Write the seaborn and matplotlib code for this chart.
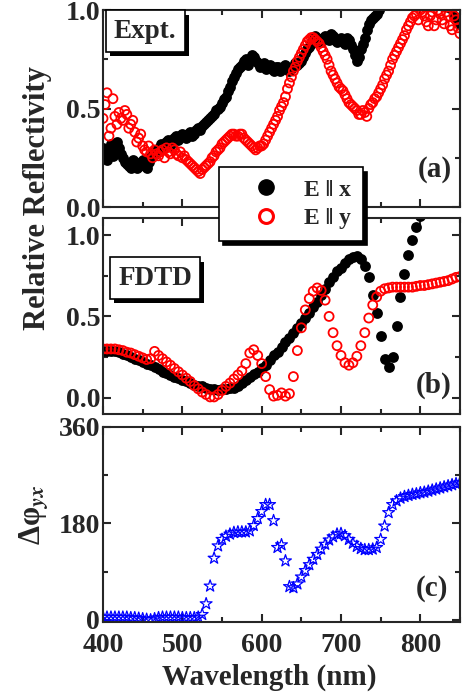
import numpy as np
import pandas as pd
import matplotlib
matplotlib.use('Agg')
import matplotlib.pyplot as plt
import matplotlib.patheffects as pe
from matplotlib.lines import Line2D
from matplotlib.ticker import MultipleLocator
import seaborn as sns

# wavelength grid (nm), plus the in-between points of the measured data
wl = np.arange(400, 855, 5)
wl_mid = np.arange(402.5, 850, 5)

# (a) measured reflectivity
expt_x = [0.30, 0.24, 0.32, 0.28, 0.30, 0.25, 0.22, 0.20, 0.23, 0.21,
          0.24, 0.20, 0.26, 0.27, 0.30, 0.31, 0.33, 0.31, 0.35, 0.34,
          0.37, 0.35, 0.38, 0.37, 0.40, 0.41, 0.43, 0.45, 0.47, 0.50,
          0.53, 0.56, 0.61, 0.66, 0.70, 0.72, 0.75, 0.74, 0.76, 0.73,
          0.72, 0.70, 0.72, 0.69, 0.71, 0.70, 0.72, 0.69, 0.71, 0.72,
          0.74, 0.78, 0.81, 0.85, 0.86, 0.84, 0.87, 0.85, 0.87, 0.84,
          0.86, 0.83, 0.85, 0.80, 0.74, 0.80, 0.86, 0.93, 0.96, 0.98,
          1.02, 1.05, 1.08, 1.10, 1.12, 1.12, 1.10, 1.12, 1.10, 1.08,
          1.08, 1.06, 1.05, 1.05, 1.04, 1.03, 1.02, 1.02, 1.01, 0.95,
          0.93]
expt_x_mid = [0.27, 0.29, 0.26, 0.33, 0.27, 0.23, 0.21, 0.24, 0.20, 0.22,
              0.21, 0.23, 0.28, 0.29, 0.32, 0.30, 0.34, 0.33, 0.36, 0.36,
              0.36, 0.37, 0.36, 0.39, 0.39, 0.42, 0.44, 0.46, 0.49, 0.51,
              0.55, 0.59, 0.64, 0.68, 0.71, 0.74, 0.72, 0.77, 0.74, 0.71,
              0.73, 0.71, 0.70, 0.71, 0.69, 0.71, 0.70, 0.70, 0.73, 0.73,
              0.76, 0.80, 0.83, 0.87, 0.85, 0.86, 0.86, 0.88, 0.85, 0.85,
              0.84, 0.86, 0.82, 0.77, 0.76, 0.83, 0.90, 0.95, 0.97, 1.00,
              1.04, 1.06, 1.09, 1.11, 1.12, 1.11, 1.11, 1.11, 1.09, 1.08,
              1.07, 1.05, 1.05, 1.04, 1.04, 1.03, 1.02, 1.01, 0.97, 0.95]
expt_y = [0.45, 0.58, 0.40, 0.46, 0.48, 0.44, 0.47, 0.42, 0.38, 0.35,
          0.31, 0.28, 0.27, 0.29, 0.26, 0.29, 0.30, 0.27, 0.29, 0.26,
          0.25, 0.24, 0.22, 0.20, 0.18, 0.19, 0.21, 0.23, 0.26, 0.29,
          0.32, 0.34, 0.36, 0.37, 0.36, 0.37, 0.34, 0.32, 0.30, 0.30,
          0.31, 0.34, 0.38, 0.42, 0.46, 0.51, 0.56, 0.63, 0.69, 0.74,
          0.78, 0.82, 0.85, 0.86, 0.84, 0.81, 0.77, 0.72, 0.67, 0.63,
          0.60, 0.57, 0.53, 0.51, 0.49, 0.47, 0.48, 0.50, 0.53, 0.56,
          0.60, 0.65, 0.69, 0.75, 0.79, 0.83, 0.87, 0.92, 0.96, 0.98,
          1.00, 0.97, 0.92, 0.99, 0.95, 0.98, 0.93, 0.97, 0.90, 0.95,
          0.88]
expt_y_mid = [0.52, 0.36, 0.55, 0.42, 0.45, 0.49, 0.40, 0.44, 0.33, 0.37,
              0.29, 0.31, 0.25, 0.27, 0.28, 0.25, 0.28, 0.30, 0.27, 0.28,
              0.26, 0.23, 0.21, 0.19, 0.17, 0.20, 0.22, 0.25, 0.28, 0.30,
              0.33, 0.35, 0.37, 0.36, 0.37, 0.35, 0.33, 0.31, 0.29, 0.31,
              0.32, 0.36, 0.40, 0.44, 0.49, 0.53, 0.60, 0.66, 0.71, 0.76,
              0.80, 0.84, 0.86, 0.85, 0.83, 0.79, 0.75, 0.69, 0.65, 0.61,
              0.59, 0.55, 0.52, 0.50, 0.47, 0.49, 0.46, 0.52, 0.55, 0.58,
              0.62, 0.67, 0.72, 0.77, 0.81, 0.85, 0.90, 0.94, 0.97, 0.95,
              0.99, 0.94, 0.97, 0.92, 1.00, 0.95, 0.99, 0.92, 0.97, 0.91]

# (b) FDTD reflectivity
fdtd_x = [0.29, 0.29, 0.29, 0.285, 0.28, 0.27, 0.26, 0.25, 0.24, 0.23,
          0.22, 0.21, 0.20, 0.19, 0.175, 0.16, 0.15, 0.14, 0.13, 0.12,
          0.11, 0.10, 0.09, 0.08, 0.075, 0.07, 0.06, 0.055, 0.055, 0.05,
          0.055, 0.055, 0.06, 0.06, 0.075, 0.09, 0.11, 0.125, 0.145, 0.16,
          0.18, 0.20, 0.23, 0.26, 0.28, 0.31, 0.34, 0.37, 0.40, 0.43,
          0.46, 0.49, 0.52, 0.56, 0.59, 0.63, 0.67, 0.71, 0.745, 0.78,
          0.80, 0.83, 0.85, 0.865, 0.87, 0.85, 0.81, 0.74, 0.63, 0.52,
          0.38, 0.24, 0.19, 0.25, 0.44, 0.62, 0.76, 0.88, 0.97, 1.05,
          1.12, 1.19, 1.25, 1.30, 1.35, 1.40, 1.44, 1.48, 1.52, 1.55,
          1.58]
fdtd_y = [0.30, 0.30, 0.30, 0.30, 0.295, 0.29, 0.28, 0.275, 0.265, 0.255,
          0.245, 0.235, 0.24, 0.285, 0.26, 0.24, 0.22, 0.20, 0.18, 0.16,
          0.14, 0.12, 0.10, 0.075, 0.055, 0.035, 0.02, 0.005, 0.005, 0.02,
          0.045, 0.07, 0.09, 0.115, 0.14, 0.165, 0.21, 0.275, 0.295, 0.26,
          0.21, 0.13, 0.05, 0.01, 0.015, 0.03, 0.01, 0.025, 0.13, 0.29,
          0.43, 0.54, 0.61, 0.655, 0.675, 0.66, 0.60, 0.50, 0.40, 0.32,
          0.26, 0.215, 0.20, 0.215, 0.255, 0.32, 0.40, 0.49, 0.57, 0.62,
          0.655, 0.67, 0.675, 0.68, 0.68, 0.68, 0.68, 0.68, 0.68, 0.685,
          0.69, 0.69, 0.695, 0.70, 0.705, 0.71, 0.715, 0.72, 0.73, 0.74,
          0.745]

# (c) phase difference (deg)
phase = [5, 5, 5, 5, 5, 5, 5, 4, 4, 3,
         2, 1, 0, 2, 4, 5, 5, 5, 5, 5,
         4, 4, 4, 4, 5, 10, 30, 63, 115, 138,
         150, 156, 160, 163, 164, 164, 164, 166, 176, 189,
         202, 215, 215, 185, 135, 140, 110, 62, 60, 67,
         80, 92, 103, 113, 122, 132, 141, 149, 155, 160,
         161, 157, 150, 143, 137, 133, 131, 131, 132, 135,
         150, 175, 200, 215, 222, 227, 230, 232, 234, 235,
         237, 238, 240, 242, 244, 246, 248, 250, 252, 254,
         256]

df = pd.DataFrame({'wl': wl, 'expt_x': expt_x, 'expt_y': expt_y,
                   'fdtd_x': fdtd_x, 'fdtd_y': fdtd_y, 'phase': phase})
df_mid = pd.DataFrame({'wl': wl_mid, 'expt_x': expt_x_mid, 'expt_y': expt_y_mid})
df_expt = pd.concat([df[['wl', 'expt_x', 'expt_y']], df_mid]).sort_values('wl')

sns.set_style('ticks')
plt.rcParams['font.family'] = ['Liberation Serif', 'DejaVu Serif']
plt.rcParams['font.weight'] = 'bold'
plt.rcParams['mathtext.fontset'] = 'stix'
plt.rcParams['axes.linewidth'] = 1.5

fig = plt.figure(figsize=(4.63, 6.97), dpi=100)
ax_a = fig.add_axes([0.2225, 0.703, 0.771, 0.2826])
ax_b = fig.add_axes([0.2225, 0.406, 0.771, 0.281])
ax_c = fig.add_axes([0.2225, 0.1076, 0.771, 0.280])

circ = dict(s=42, linewidth=1.3)
sns.scatterplot(data=df_expt, x='wl', y='expt_x', ax=ax_a, marker='o',
                facecolor='black', edgecolor='black', **circ)
sns.scatterplot(data=df_expt, x='wl', y='expt_y', ax=ax_a, marker='o',
                facecolor='none', edgecolor='red', **circ)
sns.scatterplot(data=df, x='wl', y='fdtd_x', ax=ax_b, marker='o',
                facecolor='black', edgecolor='black', **circ)
sns.scatterplot(data=df, x='wl', y='fdtd_y', ax=ax_b, marker='o',
                facecolor='none', edgecolor='red', **circ)
sns.scatterplot(data=df, x='wl', y='phase', ax=ax_c, marker='*',
                facecolor='none', edgecolor='blue', s=80, linewidth=0.9)

ax_a.set_ylim(0, 1.0)
ax_b.set_ylim(-0.1, 1.104)
ax_c.set_ylim(-4, 360)
for ax in (ax_a, ax_b, ax_c):
    ax.set_xlim(400, 850)
    ax.set_xlabel('')
    ax.set_ylabel('')
    ax.xaxis.set_major_locator(MultipleLocator(100))
    ax.xaxis.set_minor_locator(MultipleLocator(50))
    ax.tick_params(which='both', direction='in', top=True, right=True,
                   width=1.5, labelsize=20)
    ax.tick_params(which='major', length=6, pad=4)
    ax.tick_params(which='minor', length=3.5)
    ax.tick_params(axis='y', pad=2)
    for lab in ax.get_xticklabels() + ax.get_yticklabels():
        lab.set_fontweight('bold')
for ax in (ax_a, ax_b):
    ax.yaxis.set_major_locator(MultipleLocator(0.5))
    ax.yaxis.set_minor_locator(MultipleLocator(0.25))
    ax.tick_params(labelbottom=False)
ax_c.yaxis.set_major_locator(MultipleLocator(180))
ax_c.yaxis.set_minor_locator(MultipleLocator(90))
ax_c.set_xticks([400, 500, 600, 700, 800])
ax_c.tick_params(axis='x', pad=8)

shadow = [pe.withSimplePatchShadow(offset=(3, -3), shadow_rgbFace='k', alpha=1.0)]
box = dict(boxstyle='square,pad=0.3', fc='white', ec='black', lw=1.2,
           path_effects=shadow)
ax_a.text(0.118, 0.893, 'Expt.', transform=ax_a.transAxes, fontsize=19.5,
          fontweight='bold', ha='center', va='center', bbox=box, zorder=5)
ax_b.text(0.146, 0.694, 'FDTD', transform=ax_b.transAxes, fontsize=19.5,
          fontweight='bold', ha='center', va='center', bbox=box, zorder=5)

ax_a.text(0.93, 0.188, '(a)', transform=ax_a.transAxes, fontsize=21,
          fontweight='bold', ha='center', va='center')
ax_b.text(0.927, 0.148, '(b)', transform=ax_b.transAxes, fontsize=21,
          fontweight='bold', ha='center', va='center')
ax_c.text(0.922, 0.174, '(c)', transform=ax_c.transAxes, fontsize=21,
          fontweight='bold', ha='center', va='center')

fig.text(0.082, 0.716, 'Relative Reflectivity', rotation=90, fontsize=22,
         fontweight='bold', ha='center', va='center')
fig.text(0.073, 0.261, 'Δφ$_{yx}$', rotation=90, fontsize=22,
         fontweight='bold', ha='center', va='center')
fig.text(0.581, 0.0287, 'Wavelength (nm)', fontsize=21,
         fontweight='bold', ha='center', va='center')

handles = [Line2D([], [], ls='', marker='o', ms=11, mfc='black', mec='black'),
           Line2D([], [], ls='', marker='o', ms=10, mfc='none', mec='red', mew=2.2)]
leg = fig.legend(handles, ['E ‖ x', 'E ‖ y'], loc='center',
                 bbox_to_anchor=(0.6285, 0.707), fontsize=17,
                 frameon=True, fancybox=False, edgecolor='black', framealpha=1,
                 shadow={'ox': 3, 'oy': -3, 'facecolor': 'k', 'edgecolor': 'k', 'alpha': 1},
                 handlelength=3.0, handletextpad=0.1, borderpad=0.5,
                 labelspacing=0.3, borderaxespad=0)
leg.get_frame().set_linewidth(1.2)
for t in leg.get_texts():
    t.set_fontweight('bold')

fig.savefig('out.png', dpi=100)
